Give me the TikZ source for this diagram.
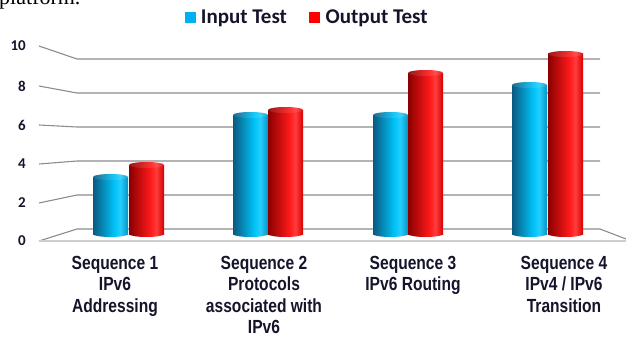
\documentclass[tikz,border=0pt]{standalone}
\usepackage{fontspec}
\usepackage{xcolor}
\setmainfont{Liberation Serif}
\newfontfamily\axisfont{Carlito}
\newfontfamily\catfont[FakeStretch=0.82]{Liberation Sans}
\usetikzlibrary{positioning}

\definecolor{gridgray}{HTML}{8C8C8C}
\definecolor{floorgray}{HTML}{CDCDCD}
\definecolor{labelink}{HTML}{14142B}
\definecolor{legblue}{HTML}{00B0F0}
\definecolor{legred}{HTML}{FF0000}
\definecolor{bluedark}{HTML}{0A5A80}
\definecolor{bluebright}{HTML}{00C4FA}
\definecolor{blueedge}{HTML}{0494C8}
\definecolor{reddark}{HTML}{8A0000}
\definecolor{redbright}{HTML}{FF1A1A}
\definecolor{rededge}{HTML}{D60000}

\pgfdeclarehorizontalshading{bluecyl}{100bp}{color(0bp)=(bluedark); color(25bp)=(bluedark); color(56bp)=(bluebright); color(64bp)=(bluebright!85!white); color(75bp)=(blueedge); color(100bp)=(blueedge)}
\pgfdeclarehorizontalshading{redcyl}{100bp}{color(0bp)=(reddark); color(25bp)=(reddark); color(56bp)=(redbright); color(64bp)=(redbright!85!white); color(75bp)=(rededge); color(100bp)=(rededge)}

% one cylinder: left x, top y, shading
\newcommand{\cylbar}[3]{%
  \shade[shading=#3] (#1+17.5,234) ellipse [x radius=17.5, y radius=3];
  \shade[shading=#3] (#1,#2+3) rectangle (#1+35,234);
  \shade[shading=#3] (#1+17.5,#2+3) ellipse [x radius=17.5, y radius=3];
  \fill[white, opacity=.1] (#1+17.5,#2+3) ellipse [x radius=17.5, y radius=3];
}

\begin{document}
\begin{tikzpicture}[
        x=1pt, y=-1pt,
        grid line/.style={draw=gridgray, line width=1.1pt},
        floor line/.style={draw=floorgray, line width=1.1pt},
        tick label/.style={anchor=east, inner sep=0pt, text=labelink, font=\axisfont\bfseries\fontsize{15}{15}\selectfont},
        legend key/.style={inner sep=0pt, minimum size=11pt},
        legend text/.style={inner sep=0pt, text=labelink, font=\axisfont\bfseries\fontsize{21}{21}\selectfont},
        cat label/.style={anchor=north, align=center, inner sep=0pt, text=labelink, font=\catfont\bfseries\fontsize{19}{21.3}\selectfont}
    ]
        \useasboundingbox (0,0) rectangle (626,337);

        % text of the page above the chart
        \node[anchor=base west, inner sep=0pt, font=\fontsize{22}{22}\selectfont] (pagetext) at (-1,5) {platform.};

        % legend
        \node[legend key, fill=legblue] (keyin) at (190,18) {};
        \node[legend text, right=5pt of keyin] (txtin) {Input Test};
        \node[legend key, fill=legred, right=22pt of txtin] (keyout) {};
        \node[legend text, right=5pt of keyout] (txtout) {Output Test};

        % walls and value labels
        \foreach \val/\fy/\by in {10/46/59, 8/86/93, 6/125/127, 4/164/161, 2/203/195, 0/241/229} {
            \node[tick label] (tick\val) at (26,\fy) {\val};
            \draw[grid line] (39,\fy) -- (77,\by) -- (600,\by);
        }
        \draw[floor line] (39,241) -- (626,241);
        \draw[grid line] (600,229) -- (626,239);

        % bars
        \cylbar{93}{174}{bluecyl}
        \cylbar{129}{162}{redcyl}
        \cylbar{233}{112}{bluecyl}
        \cylbar{268}{107}{redcyl}
        \cylbar{373}{112}{bluecyl}
        \cylbar{408}{70}{redcyl}
        \cylbar{512}{82}{bluecyl}
        \cylbar{548}{51}{redcyl}

        % categories
        \node[cat label] (seq1) at (115,256) {Sequence 1\\IPv6\\Addressing};
        \node[cat label] (seq2) at (264,256) {Sequence 2\\Protocols\\associated with\\IPv6};
        \node[cat label] (seq3) at (413,256) {Sequence 3\\IPv6 Routing};
        \node[cat label] (seq4) at (564,256) {Sequence 4\\IPv4 / IPv6\\Transition};
\end{tikzpicture}
\end{document}
